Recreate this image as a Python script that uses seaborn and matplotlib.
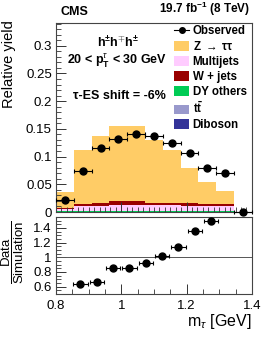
import numpy as np
import pandas as pd
import seaborn as sns
from matplotlib import pyplot as plt
from matplotlib.lines import Line2D
from matplotlib.patches import Patch
from matplotlib.ticker import MultipleLocator, FuncFormatter

# main panel: 11 bins over 0.8 - 1.4
MTAU_MIN, MTAU_MAX, N_BINS = 0.8, 1.4, 11

observed = [0.021, 0.074, 0.116, 0.131, 0.141, 0.137, 0.125, 0.106, 0.080, 0.071, 0.0]
observed_err = [0.003, 0.003, 0.003, 0.003, 0.003, 0.003, 0.003, 0.003, 0.003, 0.003, 0.0]

ztautau = [0.029, 0.097, 0.122, 0.137, 0.136, 0.112, 0.094, 0.064, 0.041, 0.024, 0.0]
multijets = [0.0045, 0.008, 0.009, 0.011, 0.011, 0.010, 0.010, 0.009, 0.008, 0.008, 0.0]
wjets = [0.001, 0.005, 0.005, 0.006, 0.006, 0.005, 0.005, 0.005, 0.004, 0.004, 0.0]
dy_others = [0.0012, 0.0015, 0.0015, 0.0015, 0.0015, 0.0015, 0.0015, 0.0015, 0.0015, 0.0015, 0.0]
ttbar = [0.0002, 0.0003, 0.0003, 0.0003, 0.0003, 0.0003, 0.0003, 0.0003, 0.0003, 0.0003, 0.0]
diboson = [0.0001, 0.0002, 0.0002, 0.0002, 0.0002, 0.0002, 0.0002, 0.0002, 0.0002, 0.0002, 0.0]

# ratio panel: 0.05 wide bins
ratio_x = [0.875, 0.925, 0.975, 1.025, 1.075, 1.125, 1.175, 1.225, 1.275]
ratio = [0.634, 0.669, 0.851, 0.851, 0.919, 1.018, 1.144, 1.357, 1.49]
ratio_err = [0.04, 0.025, 0.02, 0.02, 0.02, 0.02, 0.025, 0.03, 0.04]

LABELS = {
    "ztt": "Z $\\rightarrow$ $\\mathbf{\\tau\\tau}$",
    "qcd": "Multijets",
    "wj": "W + jets",
    "dy": "DY others",
    "tt": "$\\mathbf{t\\bar{t}}$",
    "vv": "Diboson",
}
COLORS = {
    "ztt": "#ffcc66",
    "qcd": "#ffccff",
    "wj": "#990000",
    "dy": "#00cc55",
    "tt": "#9999cc",
    "vv": "#333399",
}

plt.rcParams["font.family"] = ["Liberation Sans", "DejaVu Sans"]
plt.rcParams["mathtext.fontset"] = "custom"
plt.rcParams["mathtext.rm"] = "Liberation Sans"
plt.rcParams["mathtext.it"] = "Liberation Sans:italic"
plt.rcParams["mathtext.bf"] = "Liberation Sans:bold"
plt.rcParams["axes.linewidth"] = 0.8


def main():
    edges = np.linspace(MTAU_MIN, MTAU_MAX, N_BINS + 1)
    centers = 0.5 * (edges[:-1] + edges[1:])
    half = 0.5 * (edges[1] - edges[0])

    comps = {"ztt": ztautau, "wj": wjets, "qcd": multijets,
             "dy": dy_others, "tt": ttbar, "vv": diboson}
    df = pd.concat(
        [pd.DataFrame({"mtau": centers, "w": v, "proc": k}) for k, v in comps.items()],
        ignore_index=True,
    )

    fig = plt.figure(figsize=(2.66, 3.37), dpi=100)
    ax = fig.add_axes([0.2105, 0.3709, 0.7365, 0.5609])
    rax = fig.add_axes([0.2105, 0.1276, 0.7365, 0.2285])

    # first hue level ends up on top of the stack
    sns.histplot(
        data=df, x="mtau", weights="w", hue="proc",
        hue_order=["ztt", "wj", "qcd", "dy", "tt", "vv"],
        palette=COLORS, multiple="stack", bins=N_BINS,
        binrange=(MTAU_MIN, MTAU_MAX), element="bars",
        linewidth=0, alpha=1, shrink=1, legend=False, ax=ax,
    )
    ax.errorbar(centers, observed, xerr=half, yerr=observed_err, fmt="o",
                color="k", ms=5, elinewidth=0.8, capsize=1.3, capthick=0.8,
                clip_on=False, zorder=5)

    ax.set_xlim(MTAU_MIN, MTAU_MAX)
    ax.set_ylim(0, 0.341)
    ax.set_xlabel("")
    ax.set_ylabel("")
    ax.yaxis.set_major_locator(MultipleLocator(0.05))
    ax.yaxis.set_minor_locator(MultipleLocator(0.01))
    ax.xaxis.set_major_locator(MultipleLocator(0.2))
    ax.xaxis.set_minor_locator(MultipleLocator(0.05 / 3))
    ax.yaxis.set_major_formatter(FuncFormatter(lambda v, p: "%g" % round(v, 3)))
    ax.tick_params(axis="x", labelbottom=False)
    for a in (ax, rax):
        a.tick_params(which="major", direction="in", length=7, width=0.7,
                      labelsize=9.5, pad=3, colors="#333333", labelcolor="k")
        a.tick_params(which="minor", direction="in", length=3.5, width=0.6,
                      colors="#333333")
        for s in a.spines.values():
            s.set_color("#444444")

    # ratio panel
    rax.errorbar(ratio_x, ratio, xerr=0.022, yerr=ratio_err, fmt="o", color="k",
                 ms=5, elinewidth=0.8, capsize=1.3, capthick=0.8, zorder=5)
    rax.axhline(1.0, color="#555555", lw=0.7)
    rax.set_xlim(MTAU_MIN, MTAU_MAX)
    rax.set_ylim(0.5, 1.55)
    rax.xaxis.set_major_locator(MultipleLocator(0.2))
    rax.xaxis.set_minor_locator(MultipleLocator(0.05))
    rax.yaxis.set_major_locator(MultipleLocator(0.2))
    rax.yaxis.set_minor_locator(MultipleLocator(0.05))
    fmt = FuncFormatter(lambda v, p: "%g" % round(v, 3))
    rax.xaxis.set_major_formatter(fmt)
    rax.yaxis.set_major_formatter(fmt)
    rax.tick_params(axis="x", pad=4)

    # labels
    fig.text(0.034, 0.94, "Relative yield", rotation=90, ha="center", va="top",
             fontsize=10.5)
    fig.text(0.047, 0.252, r"$\dfrac{\mathrm{Data}}{\mathrm{Simulation}}$",
             rotation=90, ha="center", va="center", fontsize=9.5)
    fig.text(0.944, 0.017, r"m$_{\tau}$ [GeV]", ha="right", va="bottom",
             fontsize=11.5)
    fig.text(0.229, 0.946, "CMS", ha="left", va="bottom", fontsize=9,
             fontweight="bold")
    fig.text(0.938, 0.946, r"19.7 fb$^{\mathbf{-1}}$ (8 TeV)", ha="right",
             va="bottom", fontsize=8.5, fontweight="bold")
    fig.text(0.444, 0.872, r"$\mathbf{h^{\pm}h^{\mp}h^{\pm}}$", ha="center",
             va="center", fontsize=9, fontweight="bold")
    fig.text(0.442, 0.819, r"20 < $\mathbf{p}_{\mathbf{T}}^{\tau}$ < 30 GeV",
             ha="center", va="center", fontsize=9, fontweight="bold")
    fig.text(0.449, 0.715, "τ-ES shift = -6%", ha="center", va="center",
             fontsize=9, fontweight="bold")

    handles = [Line2D([], [], color="k", marker="o", ms=4, lw=0.8)]
    names = ["Observed"]
    for k in ["ztt", "qcd", "wj", "dy", "tt", "vv"]:
        handles.append(Patch(facecolor=COLORS[k], edgecolor="none"))
        names.append(LABELS[k])
    fig.legend(handles, names, loc="upper left", bbox_to_anchor=(0.655, 0.925),
               frameon=False, prop={"size": 8.3, "weight": "bold"},
               handlelength=1.3, handleheight=0.9, handletextpad=0.3,
               labelspacing=0.25, borderaxespad=0, borderpad=0)

    fig.savefig("out.png", dpi=100)


if __name__ == "__main__":
    main()
